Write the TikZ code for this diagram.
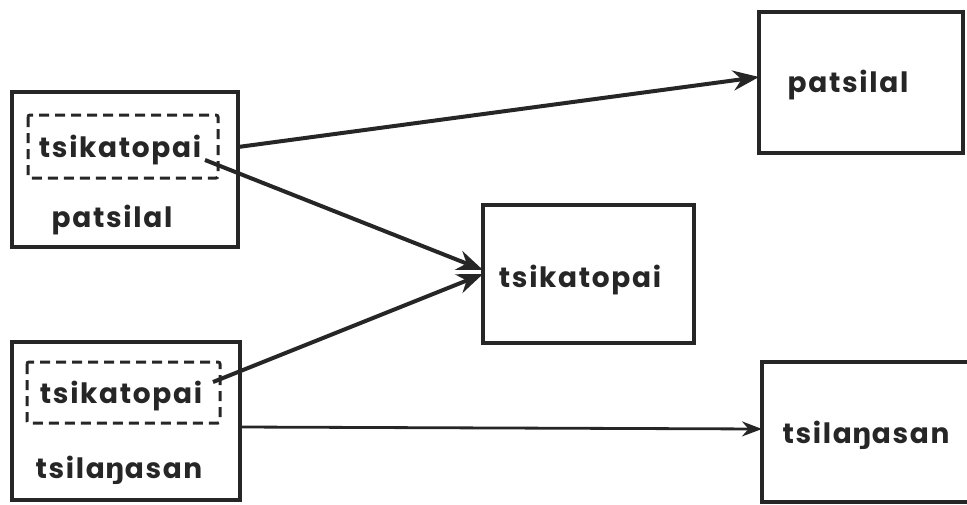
\documentclass[tikz,border=0pt]{standalone}
\usepackage{fontspec}
\setmainfont{Poppins}[LetterSpace=6]
\newfontfamily\engfont{DejaVu Sans}
\newcommand{\engchar}{{\engfont\bfseries ŋ}}
\usetikzlibrary{arrows.meta}
\begin{document}
\begin{tikzpicture}[x=1pt,y=-1pt,
  box/.style={draw=black!85,line width=3.6pt},
  dbox/.style={draw=black!85,line width=3pt,dash pattern=on 10pt off 6pt,rounded corners=2pt},
  lbl/.style={anchor=base,inner sep=0pt,text=black!85,font=\fontsize{28}{32}\selectfont\bfseries},
  arr/.style={draw=black!85,line width=4pt,-{Stealth[length=26pt,width=20pt]}},
  thinarr/.style={draw=black!85,line width=2.8pt,-{Stealth[length=20pt,width=15pt]}}]
\useasboundingbox (0,0) rectangle (967,504);
% boxes
\draw[box] (12,92) rectangle (238,247);
\draw[box] (12,342) rectangle (240,500);
\draw[box] (759,12) rectangle (963,153);
\draw[box] (483,205) rectangle (694,343);
\draw[box] (975,362) -- (762,362) -- (762,502) -- (975,502);
\draw[dbox] (28,115) rectangle (218,178);
\draw[dbox] (27,362) rectangle (220,423);
% labels
\node[lbl] (t1) at (120,157) {tsikatopai};
\node[lbl] (p1) at (112,227) {patsilal};
\node[lbl] (t2) at (121,403) {tsikatopai};
\node[lbl] (s1) at (119,478) {tsila\engchar asan};
\node[lbl] (p2) at (848,92) {patsilal};
\node[lbl] (t3) at (580,287) {tsikatopai};
\node[lbl] (s2) at (866,443) {tsila\engchar asan};
% connector ends
\coordinate (a1s) at (238,147);
\coordinate (a1e) at (759,77);
\coordinate (a2s) at (205,160);
\coordinate (a2e) at (483,270);
\coordinate (a3s) at (213,382);
\coordinate (a3e) at (483,274);
\coordinate (a4s) at (240,427);
\coordinate (a4e) at (762,429);
\draw[arr] (a1s) -- (a1e);
\draw[arr] (a2s) -- (a2e);
\draw[arr] (a3s) -- (a3e);
\draw[thinarr] (a4s) -- (a4e);
\end{tikzpicture}
\end{document}
